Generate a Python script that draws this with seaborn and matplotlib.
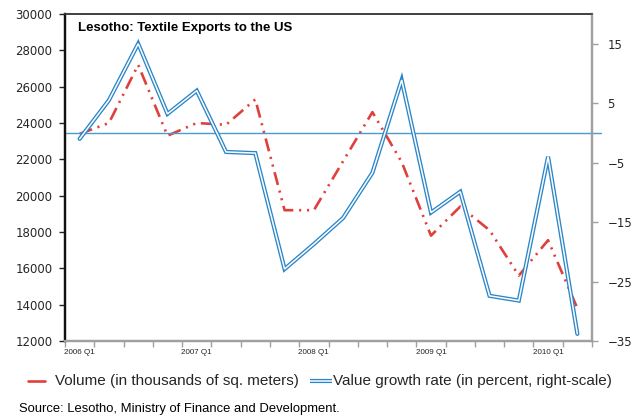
import matplotlib
matplotlib.use("Agg")
import matplotlib.pyplot as plt
from matplotlib.lines import Line2D
import matplotlib.transforms as mtransforms
import numpy as np
import pandas as pd
import seaborn as sns

# Quarterly series, 2006 Q1 - 2010 Q2
quarters = ["2006 Q1", "2006 Q2", "2006 Q3", "2006 Q4",
            "2007 Q1", "2007 Q2", "2007 Q3", "2007 Q4",
            "2008 Q1", "2008 Q2", "2008 Q3", "2008 Q4",
            "2009 Q1", "2009 Q2", "2009 Q3", "2009 Q4",
            "2010 Q1", "2010 Q2"]
volume = [23400, 24000, 27200, 23300, 24000, 23900, 25300, 19200, 19200,
          21900, 24600, 21850, 17800, 19400, 18100, 15600, 17550, 13800]
growth = [-1.0, 5.5, 15.0, 3.2, 7.1, -3.2, -3.4, -22.9, -18.7,
          -14.3, -6.7, 8.9, -13.4, -9.9, -27.4, -28.2, -4.0, -33.8]
label_quarters = ["2006 Q1", "2007 Q1", "2008 Q1", "2009 Q1", "2010 Q1"]

df = pd.DataFrame({"pos": np.arange(len(quarters)), "quarter": quarters,
                   "volume": volume, "growth": growth})

RED = "#e0403c"
BLUE = "#2a86c8"
OUTER_LW, INNER_LW = 3.0, 1.1

sns.set_theme(style="white")
plt.rcParams["font.family"] = ["Liberation Sans", "DejaVu Sans"]

W, H = 637, 420
fig = plt.figure(figsize=(W / 100, H / 100), dpi=100)
ax = fig.add_axes([65 / W, 1 - 341 / H, 527 / W, 327 / H])
ax2 = ax.twinx()

# Volume on the left axis, dash-dot-dot red line
sns.lineplot(data=df, x="pos", y="volume", ax=ax, color=RED, lw=1.9, legend=False)
ax.lines[-1].set_dashes([5, 2.2, 0.8, 2.2, 0.8, 2.2])

# Growth rate on the right axis, drawn as a double (outlined) line
sns.lineplot(data=df, x="pos", y="growth", ax=ax2, color=BLUE, lw=OUTER_LW, legend=False)
sns.lineplot(data=df, x="pos", y="growth", ax=ax2, color="white", lw=INNER_LW, legend=False)
for ln in ax2.lines:
    ln.set_solid_joinstyle("miter")

# zero line of the growth scale
trans = mtransforms.blended_transform_factory(ax2.transAxes, ax2.transData)
ax2.plot([0, 1.017], [0, 0], color="#4a9ad6", lw=1.0, transform=trans,
         clip_on=False, zorder=1)

ax.set_xlim(-0.5, len(quarters) - 0.5)
ax.set_ylim(12000, 30000)
ax2.set_ylim(-35, 20)
ax.set_yticks(np.arange(12000, 30001, 2000))
ax2.set_yticks(np.arange(-35, 16, 10))

# tick marks between categories, labels centred on selected quarters
ax.set_xticks(np.arange(-0.5, len(quarters), 1.0))
ax.set_xticklabels([])
ax.set_xticks([quarters.index(q) for q in label_quarters], minor=True)
ax.set_xticklabels(label_quarters, minor=True)
ax.tick_params(axis="x", which="major", length=4, width=1, color="#a0a0a0",
               direction="out", bottom=True)
ax.tick_params(axis="x", which="minor", length=0, pad=6, labelsize=5.8,
               labelcolor="#222222")
ax.tick_params(axis="y", length=4, width=1, color="#222222", direction="out",
               left=True, pad=5)
for lab in ax.get_yticklabels():
    lab.set_fontfamily("DejaVu Sans")
    lab.set_fontsize(8.5)
ax2.tick_params(axis="y", length=4, width=1, color="#a0a0a0", direction="out",
                right=True, pad=7)
for lab in ax2.get_yticklabels():
    lab.set_fontfamily("DejaVu Sans")
    lab.set_fontsize(8.5)
ax.set_xlabel("")
ax.set_ylabel("")
ax2.set_ylabel("")

for a in (ax, ax2):
    a.spines["left"].set_color("#111111")
    a.spines["left"].set_linewidth(1.6)
    a.spines["top"].set_color("#404040")
    a.spines["top"].set_linewidth(1.2)
    a.spines["right"].set_color("#a0a0a0")
    a.spines["right"].set_linewidth(1.6)
    a.spines["bottom"].set_color("#a0a0a0")
    a.spines["bottom"].set_linewidth(1.6)

ax.text(13 / 527, 1 - 14 / 327, "Lesotho: Textile Exports to the US",
        transform=ax.transAxes, ha="left", va="center", fontsize=9.5,
        fontweight="bold", color="black")

# legend row below the plot
ly = 1 - 381 / H
fig.add_artist(Line2D([28 / W, 45 / W], [ly, ly], color=RED, lw=1.9))
fig.text(55 / W, ly, "Volume (in thousands of sq. meters)",
         ha="left", va="center", fontsize=11)
fig.add_artist(Line2D([310 / W, 332 / W], [ly, ly], color=BLUE, lw=OUTER_LW,
                      solid_capstyle="butt"))
fig.add_artist(Line2D([310 / W, 332 / W], [ly, ly], color="white", lw=INNER_LW,
                      solid_capstyle="butt"))
fig.text(333 / W, ly, "Value growth rate (in percent, right-scale)",
         ha="left", va="center", fontsize=11)

fig.text(19 / W, 1 - 409 / H,
         "Source: Lesotho, Ministry of Finance and Development.",
         ha="left", va="center", fontsize=9.4, color="black")

fig.savefig("out.png", dpi=100)
